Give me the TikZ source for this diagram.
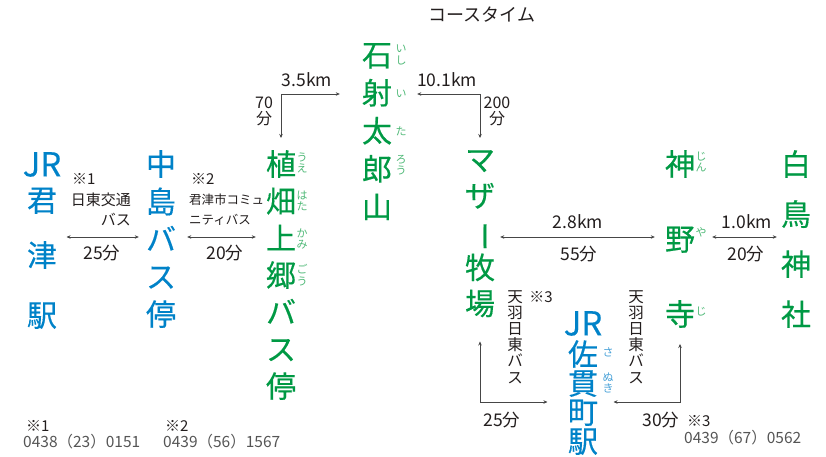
\documentclass[tikz,border=0pt]{standalone}
\usepackage{fontspec}
\setmainfont{Noto Sans CJK JP}
\newfontfamily\placefont[FakeBold=0.35]{Noto Sans CJK JP}
\usetikzlibrary{arrows.meta, calc}

\definecolor{ink}{RGB}{35,30,30}
\definecolor{linegray}{RGB}{70,70,70}
\definecolor{telgray}{RGB}{85,85,85}
\definecolor{spotgreen}{RGB}{0,153,68}
\definecolor{rubygreen}{RGB}{80,185,120}
\definecolor{stationblue}{RGB}{0,130,200}
\definecolor{rubyblue}{RGB}{70,160,215}

\tikzset{
  spot/.style={text=spotgreen, align=center, inner sep=0pt, anchor=north},
  station/.style={text=stationblue, align=center, inner sep=0pt, anchor=north},
  ruby/.style={font=\fontsize{11}{11.5}\selectfont, align=center, inner sep=0pt},
  lbl/.style={text=ink, font=\fontsize{17.5}{17.5}\selectfont, align=center, inner sep=0pt},
  note/.style={text=ink, font=\fontsize{15}{20}\selectfont, inner sep=0pt},
  tel/.style={text=telgray, font=\fontsize{15.5}{16}\selectfont, inner sep=0pt, anchor=west},
  arr/.style={draw=linegray, line width=0.6pt, {Stealth[length=4pt,width=3.5pt]}-{Stealth[length=4pt,width=3.5pt]}}
}

\newcommand{\JR}{{\fontsize{33}{33}\selectfont JR}}
\newcommand{\longbar}{\rotatebox[origin=c]{-90}{ー}}

\begin{document}
\begin{tikzpicture}[x=1pt, y=-1pt]
  \useasboundingbox (0,0) rectangle (826,457);

  \node[lbl, font=\fontsize{18}{18}\selectfont] (title) at (482,15) {コースタイム};

  % places
  \node[station, font=\placefont\fontsize{30}{35}\selectfont] (kimitsu) at (42,152) {\JR\\君\\[20pt]津\\[25pt]駅};
  \node[station, font=\placefont\fontsize{30}{37.5}\selectfont] (naka) at (161,150) {中\\島\\バ\\ス\\停};
  \node[spot, font=\placefont\fontsize{30}{37}\selectfont] (uehata) at (281,150) {植\\畑\\上\\郷\\バ\\ス\\停};
  \node[spot, font=\placefont\fontsize{30}{38}\selectfont] (ishi) at (377,43) {石\\射\\太\\郎\\山};
  \node[spot, font=\placefont\fontsize{30}{36}\selectfont] (mother) at (480,150) {マ\\ザ\\\longbar\\牧\\場};
  \node[spot, font=\placefont\fontsize{30}{75}\selectfont] (jinya) at (680,150) {神\\野\\寺};
  \node[spot, font=\placefont\fontsize{30}{50}\selectfont] (shira) at (796,150) {白\\鳥\\神\\社};
  \node[station, font=\placefont\fontsize{30}{29}\selectfont] (sanuki) at (583,311) {\JR\\[1pt]佐\\貫\\町\\駅};

  % furigana
  \node[ruby, text=rubygreen] (rbIshi) at (401,55) {い\\し};
  \node[ruby, text=rubygreen] (rbI) at (401,94) {い};
  \node[ruby, text=rubygreen] (rbTa) at (401,131) {た};
  \node[ruby, text=rubygreen] (rbRou) at (401,165) {ろ\\う};
  \node[ruby, text=rubygreen] (rbUe) at (302,163) {う\\え};
  \node[ruby, text=rubygreen] (rbHata) at (302,201) {は\\た};
  \node[ruby, text=rubygreen] (rbKami) at (302,239) {か\\み};
  \node[ruby, text=rubygreen] (rbGou) at (302,275) {ご\\う};
  \node[ruby, text=rubygreen] (rbJin) at (701,162) {じ\\ん};
  \node[ruby, text=rubygreen] (rbYa) at (701,232) {や};
  \node[ruby, text=rubygreen] (rbJi) at (701,312) {じ};
  \node[ruby, text=rubyblue] (rbSa) at (608,352) {さ};
  \node[ruby, text=rubyblue] (rbNuki) at (608,383) {ぬ\\き};

  % course times
  \node[lbl] (kmA) at (307,80) {3.5km};
  \node[lbl, font=\fontsize{16}{16}\selectfont] (minA) at (264,111) {70\\分};
  \node[lbl] (kmB) at (447,80) {10.1km};
  \node[lbl, font=\fontsize{16}{16}\selectfont] (minB) at (497,111) {200\\分};

  \node[note, anchor=west] (bus1) at (72,179) {※1};
  \node[note, anchor=north east, align=right] (bus1n) at (131,193) {日東交通\\バス};
  \node[lbl] (t1) at (102,253) {25分};
  \node[note, anchor=west] (bus2) at (191,179) {※2};
  \node[note, anchor=north west, align=left, font=\fontsize{12.5}{20}\selectfont] (bus2n) at (189,194) {君津市コミュ\\ニティバス};
  \node[lbl] (t2) at (225,253) {20分};

  \node[lbl] (km3) at (578,222) {2.8km};
  \node[lbl] (t3) at (579,254) {55分};
  \node[lbl] (km4) at (747,222) {1.0km};
  \node[lbl] (t4) at (746,254) {20分};

  \node[note, anchor=north, align=center, font=\fontsize{15.5}{16.2}\selectfont] (ama1) at (515,290) {天\\羽\\日\\東\\バ\\ス};
  \node[note] (n3a) at (541,297) {※3};
  \node[lbl] (t5) at (502,420) {25分};
  \node[note, anchor=north, align=center, font=\fontsize{15.5}{16.2}\selectfont] (ama2) at (636,290) {天\\羽\\日\\東\\バ\\ス};
  \node[lbl] (t6) at (661,420) {30分};
  \node[note, anchor=west] (n3b) at (687,421) {※3};
  \node[tel] (tel3) at (684,438) {0439（67）0562};

  % phone notes
  \node[note, anchor=west] (n1) at (26,426) {※1};
  \node[tel] (tel1) at (23,442) {0438（23）0151};
  \node[note, anchor=west] (n2) at (165,426) {※2};
  \node[tel] (tel2) at (163,442) {0439（56）1567};

  \coordinate (midrow) at (0,237);
  \coordinate (lowrow) at (0,402);

  \draw[arr] ([xshift=-22pt]ishi.west |- rbI) -| ([yshift=12pt]uehata.north);
  \draw[arr] ([xshift=25pt]ishi.east |- rbI) -| ([yshift=12pt]mother.north);
  \draw[arr] ([xshift=5pt]kimitsu.east |- midrow) -- ([xshift=-7pt]naka.west |- midrow);
  \draw[arr] ([xshift=11pt]naka.east |- midrow) -- ([xshift=-10pt]uehata.west |- midrow);
  \draw[arr] ([xshift=5pt]mother.east |- midrow) -- ([xshift=-10pt]jinya.west |- midrow);
  \draw[arr] ([xshift=17pt]jinya.east |- midrow) -- ([xshift=-4pt]shira.west |- midrow);
  \draw[arr] ([yshift=-24pt]mother.south) |- ([xshift=-16pt]sanuki.west |- lowrow);
  \draw[arr] ([yshift=-16pt]jinya.south) |- ([xshift=11pt]sanuki.east |- lowrow);
\end{tikzpicture}
\end{document}
